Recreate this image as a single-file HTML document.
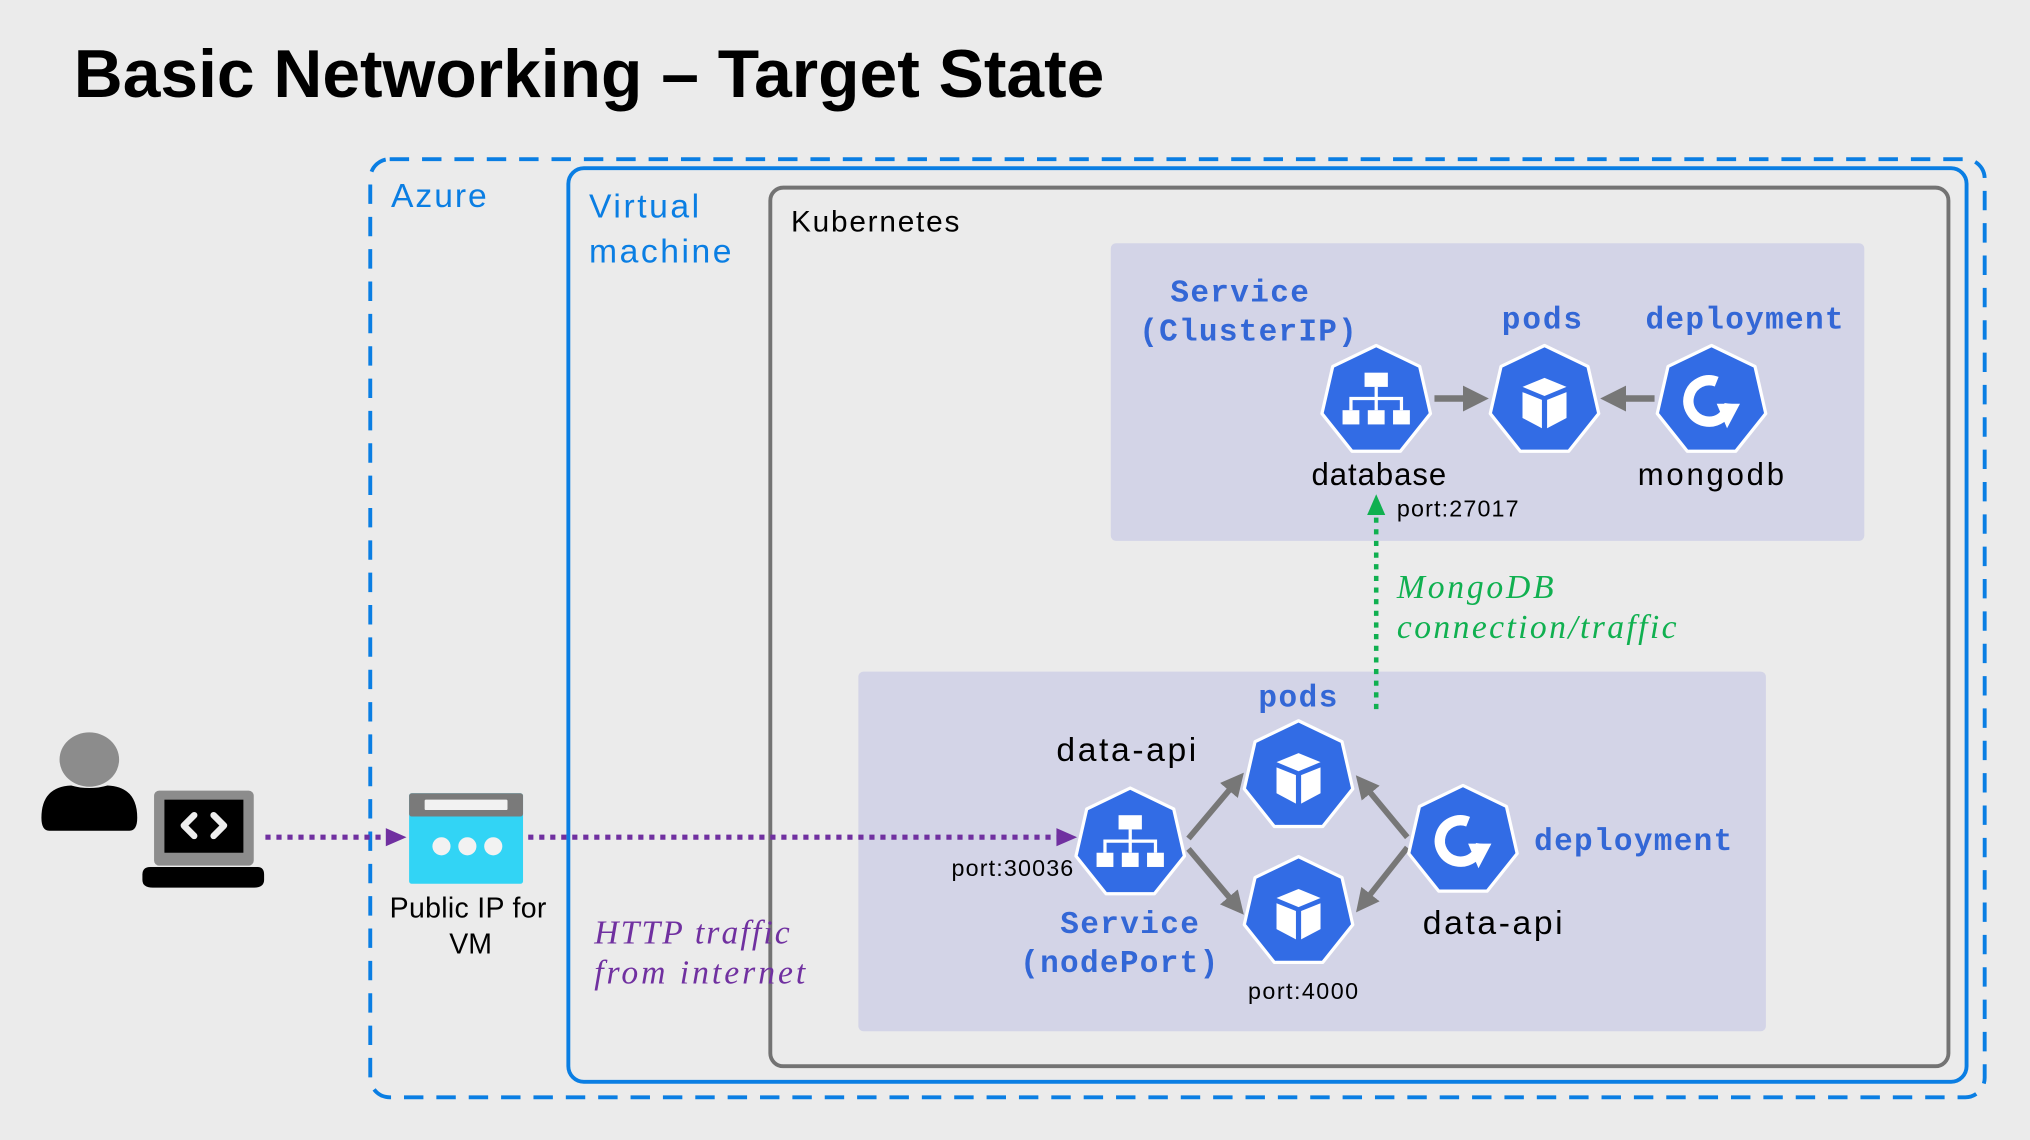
<!DOCTYPE html>
<html><head><meta charset="utf-8"><style>
html,body{margin:0;padding:0;background:#ebebeb;}
svg{display:block}
text{font-family:"Liberation Sans",sans-serif;}
.m{font-family:"Liberation Mono",monospace;font-weight:bold;fill:#3367d6;font-size:24px}
.s{font-family:"Liberation Serif",serif;font-style:italic;font-size:26px}
</style></head><body>
<svg width="2030" height="1140" viewBox="0 0 1568 881" preserveAspectRatio="none" xmlns="http://www.w3.org/2000/svg">
<defs>
<path id="hx" d="M0,-43 L33.6,-26.8 L41.9,9.6 L18.7,38.7 L-18.7,38.7 L-41.9,9.6 L-33.6,-26.8 Z" fill="#326ce5" stroke="#fff" stroke-width="2.5" stroke-linejoin="round"/>
<g id="svc"><use href="#hx"/><g fill="#fff"><rect x="-9" y="-22" width="18" height="11"/><rect x="-26" y="7" width="13" height="11"/><rect x="-6.5" y="7" width="13" height="11"/><rect x="13" y="7" width="13" height="11"/></g><path d="M0,-11 V7 M-19.5,7 V-2 H19.5 V7" stroke="#fff" stroke-width="2.5" fill="none"/></g>
<g id="pod"><use href="#hx"/><path d="M0,-18 L17,-11 L0,-4 L-17,-11 Z" fill="#fff"/><path d="M-17,-7 L-2,-1 L-2,21 L-17,13 Z M17,-7 L2,-1 L2,21 L17,13 Z" fill="#fff"/></g>
<g id="dep"><use href="#hx"/><path d="M4,-15 A16,16 0 1 0 14,2" stroke="#fff" stroke-width="8" fill="none"/><path d="M4,-2 L22,-2 L12,17 Z" fill="#fff" transform="translate(0,4)"/></g>
<marker id="ag" markerWidth="4" markerHeight="4" refX="2" refY="2" orient="auto" markerUnits="strokeWidth"><path d="M0,0 L4,2 L0,4 Z" fill="#777"/></marker>
</defs>
<rect width="1568" height="881" fill="#ebebeb"/>
<text x="57" y="75" font-size="52" font-weight="bold" textLength="796" lengthAdjust="spacingAndGlyphs">Basic Networking – Target State</text>
<rect x="286" y="123" width="1247" height="725" rx="15" fill="none" stroke="#0a7ee3" stroke-width="3" stroke-dasharray="15 10"/>
<rect x="439" y="130" width="1080" height="706" rx="12" fill="none" stroke="#0a7ee3" stroke-width="3"/>
<rect x="595" y="145" width="910" height="679" rx="10" fill="none" stroke="#737373" stroke-width="3"/>
<text x="302" y="160" font-size="26" fill="#0a7ee3" textLength="74">Azure</text>
<text x="455" y="168" font-size="26" fill="#0a7ee3" textLength="85">Virtual</text>
<text x="455" y="203" font-size="26" fill="#0a7ee3" textLength="110">machine</text>
<text x="611" y="179" font-size="23" textLength="130">Kubernetes</text>
<rect x="858" y="188" width="582" height="230" rx="4" fill="#d3d4e7"/>
<rect x="663" y="519" width="701" height="278" rx="4" fill="#d3d4e7"/>
<text class="m" x="904" y="233" textLength="107">Service</text>
<text class="m" x="880" y="263" textLength="168">(ClusterIP)</text>
<text class="m" x="1160" y="254" textLength="62">pods</text>
<text class="m" x="1271" y="254" textLength="153">deployment</text>
<line x1="1108" y1="308" x2="1140" y2="308" stroke="#777" stroke-width="5" marker-end="url(#ag)"/>
<line x1="1278" y1="308" x2="1246" y2="308" stroke="#777" stroke-width="5" marker-end="url(#ag)"/>
<use href="#svc" x="1063" y="310"/>
<use href="#pod" x="1193" y="310"/>
<use href="#dep" x="1322" y="310"/>
<text x="1013" y="375" font-size="24" textLength="104">database</text>
<text x="1265" y="375" font-size="24" textLength="113">mongodb</text>
<text x="1079" y="399" font-size="18" textLength="94">port:27017</text>
<line x1="1063" y1="548" x2="1063" y2="396" stroke="#10b050" stroke-width="3.5" stroke-dasharray="4 5"/>
<path d="M1056,398 L1063,382 L1070,398 Z" fill="#10b050"/>
<text class="s" x="1079" y="462" fill="#10b050" textLength="121">MongoDB</text>
<text class="s" x="1079" y="493" fill="#10b050" textLength="216">connection/traffic</text>
<text class="m" x="972" y="546" textLength="61">pods</text>
<text x="816" y="588" font-size="26" textLength="108">data-api</text>
<text class="m" x="1185" y="657" textLength="153">deployment</text>
<text x="1099" y="722" font-size="26" textLength="108">data-api</text>
<text class="m" x="819" y="721" textLength="107">Service</text>
<text class="m" x="788" y="751" textLength="153">(nodePort)</text>
<text x="735" y="677" font-size="18" textLength="94">port:30036</text>
<text x="964" y="772" font-size="18" textLength="85">port:4000</text>
<g stroke="#777" stroke-width="4.5" marker-end="url(#ag)">
<line x1="918" y1="648" x2="955" y2="604"/>
<line x1="918" y1="656" x2="955" y2="700"/>
<line x1="1087" y1="647" x2="1053" y2="606"/>
<line x1="1087" y1="655" x2="1053" y2="698"/>
</g>
<use href="#svc" x="873" y="652"/>
<use href="#pod" x="1003" y="600"/>
<use href="#pod" x="1003" y="705"/>
<use href="#dep" x="1130" y="650"/>
<ellipse cx="69" cy="587" rx="23" ry="21" fill="#8c8c8c"/>
<path d="M32,632 Q32,608 55,607 Q69,611 83,607 Q106,608 106,632 Q106,642 100,642 L38,642 Q32,642 32,632 Z" fill="#000"/>
<rect x="119" y="611" width="77" height="58" rx="4" fill="#8c8c8c"/>
<rect x="127" y="618" width="61" height="41" fill="#000"/>
<path d="M150,630 L142,638 L150,646 M165,630 L173,638 L165,646" stroke="#eee" stroke-width="5" fill="none" stroke-linecap="round" stroke-linejoin="round"/>
<path d="M110,676 Q110,670 116,670 L199,670 Q204,670 204,676 L204,680 Q204,686 196,686 L118,686 Q110,686 110,680 Z" fill="#000"/>
<rect x="316" y="613" width="88" height="70" rx="2" fill="#32d4f5"/>
<rect x="316" y="613" width="88" height="18" rx="2" fill="#7a7a7a"/>
<rect x="328" y="618" width="64" height="8" rx="1" fill="#f2f2f2"/>
<circle cx="341" cy="654" r="7" fill="#f2f2f2"/><circle cx="361" cy="654" r="7" fill="#f2f2f2"/><circle cx="381" cy="654" r="7" fill="#f2f2f2"/>
<text x="301" y="709" font-size="22" textLength="121">Public IP for</text>
<text x="347" y="737" font-size="22">VM</text>
<g stroke="#7030a0" stroke-width="4" stroke-dasharray="4 4.5">
<line x1="205" y1="647" x2="300" y2="647"/>
<line x1="408" y1="647" x2="818" y2="647"/>
</g>
<path d="M298,640 L314,647 L298,654 Z" fill="#7030a0"/>
<path d="M816,640 L832,647 L816,654 Z" fill="#7030a0"/>
<text class="s" x="459" y="729" fill="#7030a0" textLength="151">HTTP traffic</text>
<text class="s" x="459" y="760" fill="#7030a0" textLength="163">from internet</text>
</svg>
</body></html>
